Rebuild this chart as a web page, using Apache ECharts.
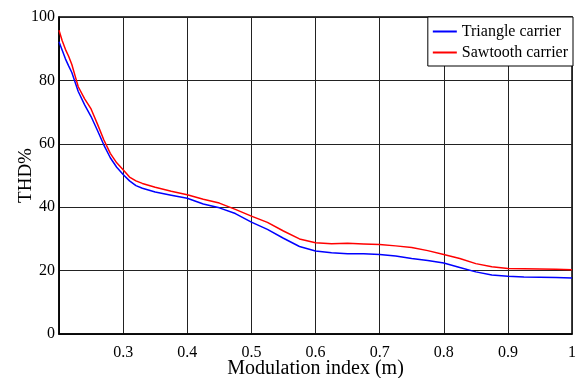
<!DOCTYPE html>
<html>
<head>
<meta charset="utf-8">
<title>THD vs modulation index</title>
<script src="https://cdn.jsdelivr.net/npm/echarts@6/dist/echarts.min.js"></script>
<style>
html, body { margin: 0; padding: 0; background: #fff; }
#main { width: 583px; height: 378px; }
</style>
</head>
<body>
<div id="main"></div>
<script>
// 调制比 (x 轴)
var modIndex = [0.2, 0.205, 0.21, 0.215, 0.22, 0.225, 0.23, 0.24, 0.25, 0.26, 0.27, 0.28, 0.29, 0.30,
	0.31, 0.32, 0.33, 0.35, 0.375, 0.40, 0.425, 0.45, 0.475, 0.50, 0.525, 0.55, 0.575, 0.60,
	0.625, 0.65, 0.675, 0.70, 0.725, 0.75, 0.775, 0.80, 0.825, 0.85, 0.875, 0.90, 0.925, 0.95, 0.975, 1.0];
// 三角载波 THD%
var triangleThd = [92.2, 89.5, 86.8, 84.6, 82.5, 79.5, 76.5, 72.3, 68.6, 64.2, 59.6, 55.6, 52.6, 50.3,
	48.3, 46.8, 46.0, 44.8, 43.8, 42.8, 41.0, 39.8, 38.0, 35.3, 33.0, 30.2, 27.6, 26.2,
	25.6, 25.3, 25.3, 25.1, 24.6, 23.8, 23.2, 22.4, 21.0, 19.6, 18.6, 18.2, 18.0, 17.9, 17.8, 17.7];
// 锯齿载波 THD%
var sawtoothThd = [95.8, 92.5, 89.8, 87.6, 85.0, 81.5, 78.0, 74.2, 71.0, 66.2, 61.2, 57.0, 54.0, 51.8,
	49.5, 48.3, 47.5, 46.3, 45.0, 43.9, 42.5, 41.3, 39.3, 37.2, 35.2, 32.5, 30.0, 28.8,
	28.5, 28.6, 28.4, 28.2, 27.8, 27.3, 26.3, 25.1, 23.8, 22.2, 21.2, 20.7, 20.6, 20.5, 20.4, 20.3];
var seriesNames = ['Triangle carrier', 'Sawtooth carrier'];
var yTicks = [0, 20, 40, 60, 80, 100];

function pairs(xs, ys) {
	var out = [];
	for (var i = 0; i < xs.length; i++) {
		out.push([xs[i], ys[i]]);
	}
	return out;
}

var myChart = echarts.init(document.getElementById('main'));
var font = '"Liberation Serif", "Times New Roman", serif';

var option = {
	backgroundColor: '#fff',
	animation: false,
	grid: {
		left: 59,
		right: 11,
		top: 17,
		bottom: 44,
		containLabel: false,
		outerBoundsMode: 'none',
		show: true,
		borderColor: '#000',
		borderWidth: 1.5
	},
	legend: {
		data: seriesNames,
		orient: 'vertical',
		right: 10,
		top: 17,
		padding: [4, 5, 3, 5],
		itemGap: 0,
		itemWidth: 24,
		itemHeight: 2,
		icon: 'rect',
		backgroundColor: '#fff',
		borderColor: '#000',
		borderWidth: 1,
		textStyle: {
			fontFamily: font,
			fontSize: 16,
			color: '#000',
			lineHeight: 21
		}
	},
	xAxis: {
		type: 'value',
		min: 0.2,
		max: 1,
		interval: 0.1,
		name: 'Modulation index (m)',
		nameLocation: 'middle',
		nameGap: 25,
		nameMoveOverlap: false,
		nameTextStyle: { fontFamily: font, fontSize: 20, color: '#000' },
		axisLine: { show: true, lineStyle: { color: '#000', width: 1.5 } },
		axisTick: { show: false },
		axisLabel: {
			fontFamily: font,
			fontSize: 16,
			color: '#000',
			margin: 11,
			formatter: function(v) {
				if (v < 0.25) return '';
				if (Math.abs(v - 1) < 1e-6) return '1';
				return v.toFixed(1);
			}
		},
		splitLine: { show: true, lineStyle: { color: '#222', width: 1 } }
	},
	yAxis: {
		type: 'value',
		min: yTicks[0],
		max: yTicks[yTicks.length - 1],
		interval: 20,
		name: 'THD%',
		nameLocation: 'middle',
		nameGap: 23,
		nameMoveOverlap: false,
		nameTextStyle: { fontFamily: font, fontSize: 19, color: '#000' },
		axisLine: { show: true, lineStyle: { color: '#000', width: 1.5 } },
		axisTick: { show: false },
		axisLabel: { fontFamily: font, fontSize: 16, color: '#000', margin: 4 },
		splitLine: { show: true, lineStyle: { color: '#222', width: 1 } }
	},
	series: [{
		name: seriesNames[0],
		type: 'line',
		symbol: 'none',
		color: '#0000ff',
		lineStyle: { width: 1.5, color: '#0000ff' },
		data: pairs(modIndex, triangleThd)
	}, {
		name: seriesNames[1],
		type: 'line',
		symbol: 'none',
		color: '#ff0000',
		lineStyle: { width: 1.5, color: '#ff0000' },
		data: pairs(modIndex, sawtoothThd)
	}]
};

myChart.setOption(option);
</script>
</body>
</html>
